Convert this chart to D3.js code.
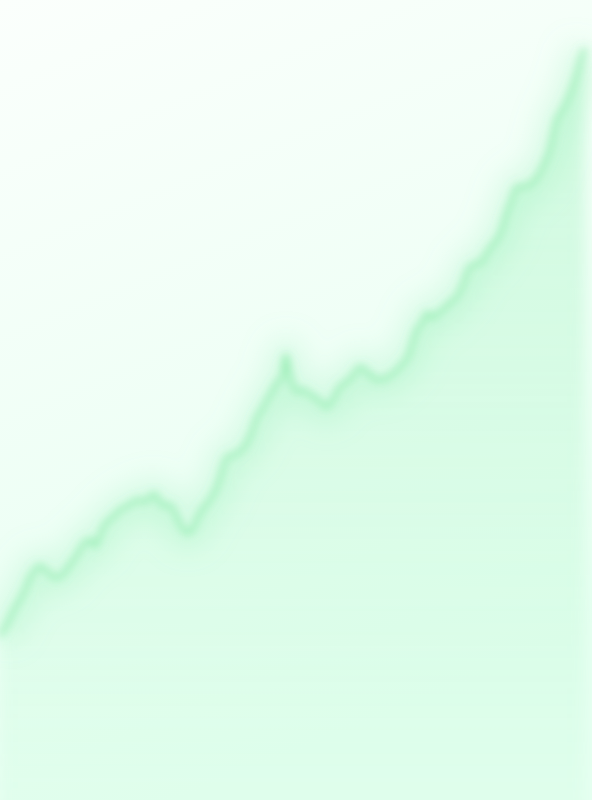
<!DOCTYPE html>
<html>
<head>
<meta charset="utf-8">
<script src="https://cdn.jsdelivr.net/npm/d3@7"></script>
<style>
  html, body { margin: 0; padding: 0; background: #f8fffa; }
  #chart svg { display: block; }
</style>
</head>
<body>
<div id="chart"></div>
<script>
// sample positions and values
const days = [
  0, 5, 10, 15, 20, 25, 30, 35, 40, 45,
  50, 55, 60, 65, 70, 75, 80, 85, 90, 95,
  100, 105, 110, 115, 120, 125, 130, 137, 145, 150,
  155, 160, 165, 170, 177, 182, 187, 192, 200, 210,
  217, 222, 227, 235, 242, 247, 252, 257, 262, 267,
  272, 277, 282, 286, 289, 293, 298, 303, 310, 318,
  327, 333, 340, 347, 353, 360, 367, 373, 380, 387,
  393, 400, 408, 417, 423, 427, 433, 440, 445, 450,
  457, 463, 470, 477, 482, 487, 493, 500, 507, 512,
  517, 523, 530, 537, 543, 550, 557, 563, 570, 577,
  583, 585
];
const values = [
  164, 172, 182, 192, 200, 210, 222, 230, 234, 230,
  226, 222, 223, 228, 235, 242, 250, 258, 260, 254,
  264, 276, 280, 285, 290, 293, 295, 300, 298, 303,
  306, 297, 294, 295, 282, 272, 267, 270, 287, 300,
  313, 328, 343, 345, 350, 357, 368, 383, 390, 400,
  408, 417, 422, 445, 428, 414, 408, 410, 405, 400,
  393, 400, 413, 418, 424, 433, 428, 422, 420, 422,
  426, 433, 443, 470, 478, 487, 482, 488, 492, 497,
  503, 515, 533, 536, 538, 547, 555, 565, 587, 600,
  613, 613, 615, 622, 633, 650, 680, 690, 705, 725,
  747, 752
];

const width = 592;
const height = 800;

const data = days.map((d, i) => ({ day: d, value: values[i] }));

const svg = d3.select('#chart')
  .append('svg')
  .attr('width', width)
  .attr('height', height);

const defs = svg.append('defs');

const bg = defs.append('linearGradient')
  .attr('id', 'bg')
  .attr('x1', 0).attr('y1', 0).attr('x2', 0.3).attr('y2', 1);
bg.append('stop').attr('offset', '0%').attr('stop-color', '#fbfffc');
bg.append('stop').attr('offset', '100%').attr('stop-color', '#e6fff1');

const fill = defs.append('linearGradient')
  .attr('id', 'fill')
  .attr('x1', 0).attr('y1', 0).attr('x2', 0).attr('y2', 1);
fill.append('stop').attr('offset', '0%').attr('stop-color', '#86efac').attr('stop-opacity', 0.32);
fill.append('stop').attr('offset', '100%').attr('stop-color', '#86efac').attr('stop-opacity', 0.06);

defs.append('filter').attr('id', 'soft')
  .attr('x', '-10%').attr('y', '-10%').attr('width', '120%').attr('height', '120%')
  .append('feGaussianBlur').attr('stdDeviation', 4);

defs.append('filter').attr('id', 'wide')
  .attr('x', '-10%').attr('y', '-10%').attr('width', '120%').attr('height', '120%')
  .append('feGaussianBlur').attr('stdDeviation', 7);

defs.append('filter').attr('id', 'glow')
  .attr('x', '-20%').attr('y', '-20%').attr('width', '140%').attr('height', '140%')
  .append('feGaussianBlur').attr('stdDeviation', 14);

const scaleX = d3.scaleLinear()
  .domain([0, 592])
  .range([0, width]);

const scaleY = d3.scaleLinear()
  .domain([0, 800])
  .range([height, 0]);

svg.append('rect')
  .attr('width', width)
  .attr('height', height)
  .attr('fill', 'url(#bg)');

const area = d3.area()
  .x(d => scaleX(d.day))
  .y0(height + 40)
  .y1(d => scaleY(d.value))
  .curve(d3.curveMonotoneX);

const line = d3.line()
  .x(d => scaleX(d.day))
  .y(d => scaleY(d.value))
  .curve(d3.curveMonotoneX);

// wide haze around the line
svg.append('path')
  .datum(data)
  .attr('d', line)
  .attr('fill', 'none')
  .attr('stroke', '#86efac')
  .attr('stroke-opacity', 0.22)
  .attr('stroke-width', 34)
  .attr('filter', 'url(#glow)');

svg.append('path')
  .datum(data)
  .attr('d', area)
  .attr('fill', 'url(#fill)')
  .attr('filter', 'url(#wide)');

svg.append('path')
  .datum(data)
  .attr('d', line)
  .attr('fill', 'none')
  .attr('stroke', '#7ee8a0')
  .attr('stroke-opacity', 0.75)
  .attr('stroke-width', 4)
  .attr('stroke-linejoin', 'round')
  .attr('filter', 'url(#soft)');
</script>
</body>
</html>
